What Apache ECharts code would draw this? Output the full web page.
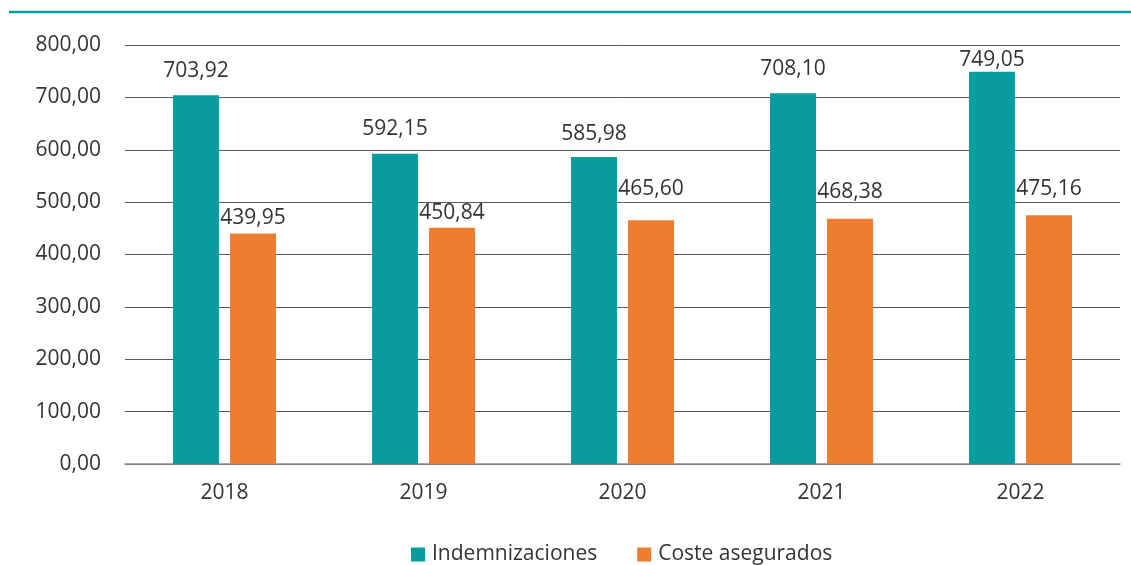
<!DOCTYPE html>
<html>
<head>
<meta charset="utf-8">
<style>
  html, body { margin: 0; padding: 0; background: #ffffff; }
  #chart { width: 1131px; height: 565px; }
</style>
<script src="https://cdn.jsdelivr.net/npm/echarts@6/dist/echarts.min.js"></script>
</head>
<body>
<div id="chart"></div>
<script>
const categories = ['2018', '2019', '2020', '2021', '2022'];
const indemnizaciones = [703.92, 592.15, 585.98, 708.10, 749.05];
const costeAsegurados = [439.95, 450.84, 465.60, 468.38, 475.16];
const seriesNames = ['Indemnizaciones', 'Coste asegurados'];

// label spacing above each bar (style only)
const teaLabelGap = [14, 14, 13, 14, 1];
const orangeLabelGap = [5, 4, 21, 16, 16];

const FONT = '"Open Sans", sans-serif';
const TEXT = '#333333';
const fmt = v => v.toFixed(2).replace('.', ',');

function withGaps(values, gaps) {
  return values.map((v, i) => ({ value: v, label: { distance: gaps[i] } }));
}

const chart = echarts.init(document.getElementById('chart'));
chart.setOption({
  animation: false,
  textStyle: { fontFamily: FONT },
  graphic: [{
    type: 'line',
    shape: { x1: 9, y1: 12, x2: 1131, y2: 12 },
    style: { stroke: '#0a9ba0', lineWidth: 2.5 }
  }],
  grid: { left: 125, right: 11, top: 45, bottom: 101, containLabel: false },
  legend: {
    data: seriesNames,
    left: 406,
    top: 539,
    itemWidth: 14,
    itemHeight: 14,
    itemGap: 40,
    icon: 'rect',
    textStyle: { fontFamily: FONT, fontSize: 21, color: TEXT, padding: [0, 0, 0, 2] }
  },
  xAxis: {
    type: 'category',
    data: categories,
    axisTick: { show: false },
    axisLine: { lineStyle: { color: '#8c8c8c', width: 1.5 } },
    axisLabel: { fontFamily: FONT, fontSize: 21, color: TEXT, margin: 19 }
  },
  yAxis: {
    type: 'value',
    min: 0,
    max: 800,
    interval: 100,
    axisLine: { show: false },
    axisTick: { show: false },
    splitLine: { lineStyle: { color: '#595959', width: 1 } },
    axisLabel: {
      fontFamily: FONT, fontSize: 21, color: TEXT, margin: 24,
      formatter: v => fmt(v)
    }
  },
  series: [
    {
      name: seriesNames[0],
      type: 'bar',
      data: withGaps(indemnizaciones, teaLabelGap),
      barWidth: 46,
      barGap: '24%',
      itemStyle: { color: '#089ca1' },
      label: {
        show: true, position: 'top', fontFamily: FONT, fontSize: 21, color: TEXT,
        formatter: p => fmt(p.value)
      }
    },
    {
      name: seriesNames[1],
      type: 'bar',
      data: withGaps(costeAsegurados, orangeLabelGap),
      barWidth: 46,
      itemStyle: { color: '#ed7d31' },
      label: {
        show: true, position: 'top', fontFamily: FONT, fontSize: 21, color: TEXT,
        formatter: p => fmt(p.value)
      }
    }
  ]
});
</script>
</body>
</html>
